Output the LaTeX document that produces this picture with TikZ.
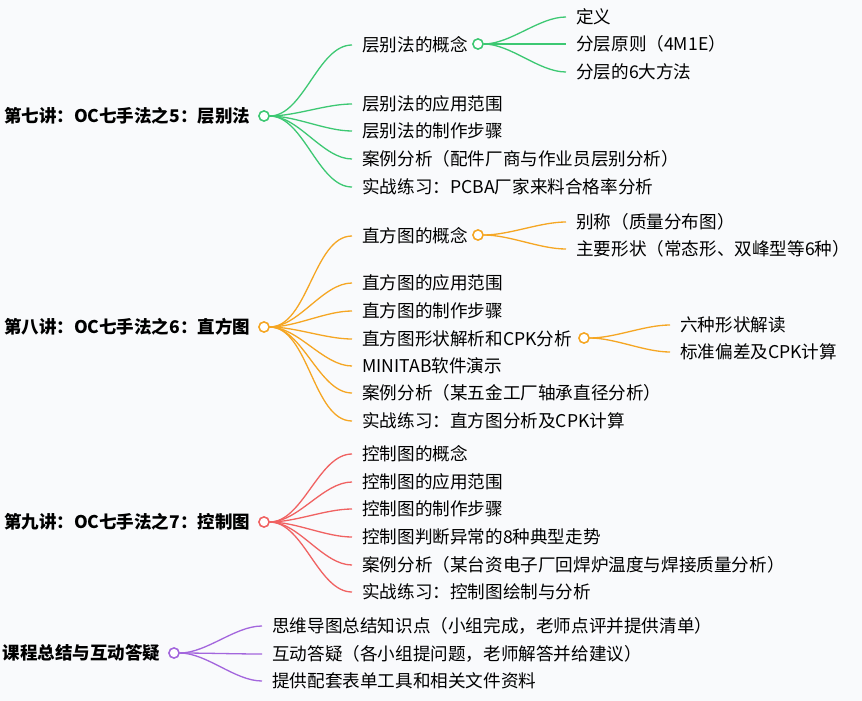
\documentclass[tikz,border=0pt]{standalone}
\usepackage{fontspec}
\setmainfont{Noto Sans CJK SC}
\begin{document}
\begin{tikzpicture}[x=1pt,y=-1pt,
  lbl/.style={anchor=west,inner sep=0pt,font=\fontsize{17.6}{20}\selectfont},
  root/.style={anchor=east,inner sep=0pt,font=\fontsize{17.5}{20}\selectfont\bfseries},
  dot/.style={circle,draw=#1,fill=white,line width=1.4pt,minimum size=10pt,inner sep=0pt},
  br/.style={draw=#1,line width=1.3pt}]
\definecolor{cg}{HTML}{3DC873}\definecolor{co}{HTML}{F5A623}
\definecolor{cr}{HTML}{F06262}\definecolor{cp}{HTML}{A366DD}
\fill[fill={rgb,255:red,249;green,250;blue,252}] (0,0) rectangle (862,701);
\newcommand{\lk}[3]{\draw[br=#3] (#1.east) to[out=0,in=180,looseness=0.8] ([xshift=-10pt]#2.west);}
% group 1
\node[dot=cg] (r1) at (264,116) {};
\node[root,xshift=-8pt] at (r1.west) {第七讲：OC七手法之5：层别法};
\node[lbl] (a1) at (362,45) {层别法的概念};
\node[lbl] (a2) at (362,104) {层别法的应用范围};
\node[lbl] (a3) at (362,131) {层别法的制作步骤};
\node[lbl] (a4) at (362,159) {案例分析（配件厂商与作业员层别分析）};
\node[lbl] (a5) at (362,187) {实战练习：PCBA厂家来料合格率分析};
\node[dot=cg] (c1) at (478,44) {};
\node[lbl] (a11) at (576,17) {定义};
\node[lbl] (a12) at (576,44) {分层原则（4M1E）};
\node[lbl] (a13) at (576,72) {分层的6大方法};
\foreach \n in {a1,a2,a3,a4,a5}{\lk{r1}{\n}{cg}}
\foreach \n in {a11,a12,a13}{\lk{c1}{\n}{cg}}
% group 2
\node[dot=co] (r2) at (264,327) {};
\node[root,xshift=-8pt] at (r2.west) {第八讲：OC七手法之6：直方图};
\node[lbl] (b1) at (362,236) {直方图的概念};
\node[lbl] (b2) at (362,283) {直方图的应用范围};
\node[lbl] (b3) at (362,311) {直方图的制作步骤};
\node[lbl] (b4) at (362,339) {直方图形状解析和CPK分析};
\node[lbl] (b5) at (362,366) {MINITAB软件演示};
\node[lbl] (b6) at (362,393) {案例分析（某五金工厂轴承直径分析）};
\node[lbl] (b7) at (362,421) {实战练习：直方图分析及CPK计算};
\node[dot=co] (c2) at (478,235) {};
\node[lbl] (b11) at (576,222) {别称（质量分布图）};
\node[lbl] (b12) at (576,249) {主要形状（常态形、双峰型等6种）};
\node[dot=co] (c3) at (584,338) {};
\node[lbl] (b41) at (680,325) {六种形状解读};
\node[lbl] (b42) at (680,352) {标准偏差及CPK计算};
\foreach \n in {b1,b2,b3,b4,b5,b6,b7}{\lk{r2}{\n}{co}}
\foreach \n in {b11,b12}{\lk{c2}{\n}{co}}
\foreach \n in {b41,b42}{\lk{c3}{\n}{co}}
% group 3
\node[dot=cr] (r3) at (264,522) {};
\node[root,xshift=-8pt] at (r3.west) {第九讲：OC七手法之7：控制图};
\node[lbl] (d1) at (362,454) {控制图的概念};
\node[lbl] (d2) at (362,482) {控制图的应用范围};
\node[lbl] (d3) at (362,509) {控制图的制作步骤};
\node[lbl] (d4) at (362,537) {控制图判断异常的8种典型走势};
\node[lbl] (d5) at (362,565) {案例分析（某台资电子厂回焊炉温度与焊接质量分析）};
\node[lbl] (d6) at (362,592) {实战练习：控制图绘制与分析};
\foreach \n in {d1,d2,d3,d4,d5,d6}{\lk{r3}{\n}{cr}}
% group 4
\node[dot=cp] (r4) at (174,653) {};
\node[root,xshift=-8pt] at (r4.west) {课程总结与互动答疑};
\node[lbl] (e1) at (272,626) {思维导图总结知识点（小组完成，老师点评并提供清单）};
\node[lbl] (e2) at (272,654) {互动答疑（各小组提问题，老师解答并给建议）};
\node[lbl] (e3) at (272,681) {提供配套表单工具和相关文件资料};
\foreach \n in {e1,e2,e3}{\lk{r4}{\n}{cp}}
\node[dot=cg] at (r1) {};\node[dot=cg] at (c1) {};
\node[dot=co] at (r2) {};\node[dot=co] at (c2) {};\node[dot=co] at (c3) {};
\node[dot=cr] at (r3) {};\node[dot=cp] at (r4) {};
\end{tikzpicture}
\end{document}
